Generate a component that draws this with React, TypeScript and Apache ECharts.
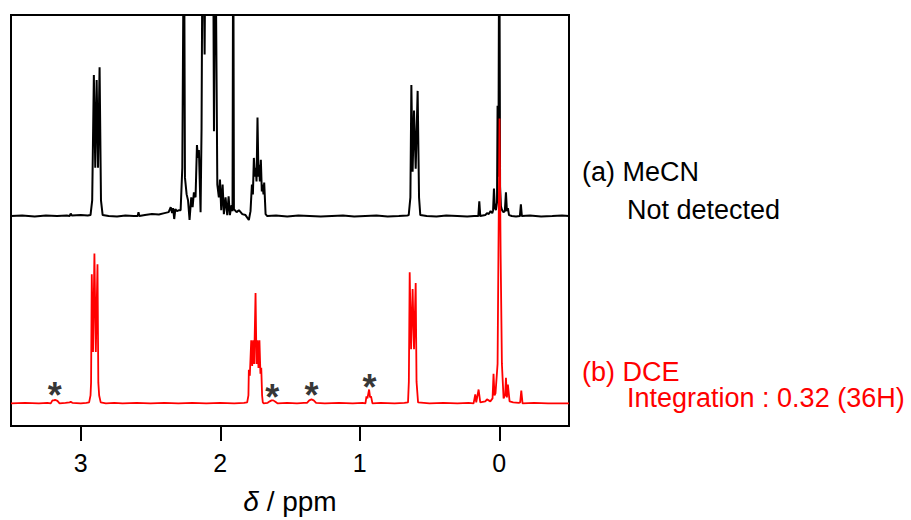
import React, { useEffect, useRef } from "react";
import * as echarts from "echarts";

// ---- Data (ppm, intensity above each trace's own baseline) ----
const blackSpectrum: [number, number][] = [
  [3.5, 0], [3.42, 0.5], [3.33, -0.5], [3.25, 0.5], [3.17, 0], [3.1, 0.5], [3.08, 0], [3.072, 2.5], [3.064, 0.5], [3.0, 1], [2.95, 0.5],
  [2.93, 1], [2.918, 16], [2.906, 143], [2.896, 49], [2.886, 138], [2.876, 49], [2.865, 151], [2.855, 16], [2.843, 1],
  [2.8, 0], [2.74, -0.5], [2.68, 0.5], [2.62, 0], [2.592, 0], [2.586, 4], [2.58, 0], [2.54, 1], [2.49, 2], [2.44, 1.5], [2.4, 3],
  [2.37, 4], [2.355, 9], [2.345, 3], [2.338, 8], [2.33, -3], [2.322, 7], [2.31, 5], [2.295, 6], [2.284, 6],
  [2.272, 49], [2.26, 330], [2.253, 39], [2.241, 22], [2.231, 16], [2.22, -4], [2.208, 19], [2.198, 9], [2.189, 24], [2.177, 19],
  [2.167, 72], [2.16, 59], [2.153, 67], [2.141, 4], [2.134, 89], [2.126, 330], [2.112, 164], [2.105, 330], [2.081, 340],
  [2.052, 330], [2.045, 86], [2.036, 330], [2.021, 32], [2.01, 19], [2.002, 37], [1.993, 6], [1.983, 32], [1.974, 2], [1.962, 19],
  [1.95, 1], [1.94, 20], [1.931, 1], [1.919, 11], [1.912, 5], [1.907, 330], [1.902, 7], [1.883, 4], [1.866, 6], [1.842, 2],
  [1.819, 1], [1.795, -4], [1.783, 5],
  [1.773, 32], [1.766, 22], [1.759, 59], [1.752, 40], [1.745, 49], [1.74, 35], [1.733, 100], [1.726, 40], [1.721, 52], [1.716, 35],
  [1.709, 57], [1.702, 25], [1.697, 32], [1.69, 22], [1.685, 34], [1.675, 2], [1.663, 0],
  [1.6, 0.5], [1.52, -0.5], [1.44, 0.5], [1.36, 0], [1.28, -0.5], [1.2, 0], [1.12, 0.5], [1.04, -0.5], [0.96, 0], [0.88, 0.5],
  [0.8, -0.5], [0.72, 0], [0.66, 0.5],
  [0.649, 1], [0.637, 19], [0.63, 133], [0.621, 45], [0.611, 107], [0.599, 48], [0.585, 127], [0.575, 19], [0.566, 1],
  [0.52, 0], [0.45, -0.5], [0.38, 0.5], [0.3, 0], [0.23, -0.5], [0.18, 0], [0.15, 0], [0.143, 15], [0.136, 0], [0.1, 1],
  [0.088, 3], [0.075, 2], [0.062, 5], [0.05, 3], [0.044, 6], [0.038, 28], [0.031, 8], [0.024, 6], [0.016, 14], [0.012, 112],
  [0.006, 40], [0.0, 330], [-0.006, 30], [-0.012, 10], [-0.02, 6], [-0.03, 4], [-0.04, 5], [-0.048, 24], [-0.055, 5], [-0.062, 8],
  [-0.07, 1], [-0.09, 0], [-0.12, -0.5], [-0.148, 0], [-0.155, 12], [-0.162, 0], [-0.22, 0.5], [-0.3, -0.5], [-0.38, 0],
  [-0.45, 0.5], [-0.5, 0],
];

const redSpectrum: [number, number][] = [
  [3.5, 0], [3.4, 0.5], [3.3, 0], [3.24, 0.5], [3.215, 0], [3.203, 3], [3.192, 3], [3.184, 3.5], [3.167, 2.5], [3.152, 0],
  [3.11, 0.5], [3.08, 1], [3.072, 1.5], [3.06, 0.5], [3.0, 0], [2.96, 0.5],
  [2.94, 1], [2.93, 8], [2.926, 21], [2.921, 131], [2.912, 52], [2.902, 152], [2.892, 52], [2.88, 141], [2.874, 21], [2.868, 8], [2.857, 1],
  [2.82, 0], [2.76, 0.5], [2.7, 0], [2.6, 0.5], [2.5, 0], [2.4, 0.5], [2.3, 0], [2.2, 0.5], [2.1, 0], [2.0, 0.5], [1.9, 0], [1.83, 0.5],
  [1.807, 1], [1.798, 8], [1.795, 34], [1.788, 28], [1.778, 64], [1.771, 38], [1.764, 64], [1.757, 40], [1.747, 112], [1.74, 40],
  [1.733, 64], [1.726, 36], [1.719, 64], [1.712, 30], [1.706, 36], [1.7, 8], [1.695, 1],
  [1.69, 0], [1.66, 0.5], [1.645, 2], [1.632, 3], [1.62, 3], [1.605, 1.5], [1.59, 0], [1.52, 0.5], [1.45, 0], [1.4, 0.5],
  [1.378, 0.5], [1.362, 3], [1.346, 4], [1.33, 3], [1.313, 0.5], [1.25, 0], [1.15, 0.5], [1.05, 0], [0.98, 0.5],
  [0.959, 0], [0.952, 7], [0.945, 5], [0.933, 14], [0.926, 6], [0.919, 7], [0.909, 0],
  [0.85, 0.5], [0.75, 0], [0.68, 0.5],
  [0.654, 1], [0.648, 22], [0.642, 133], [0.632, 55], [0.621, 116], [0.611, 55], [0.599, 122], [0.593, 22], [0.582, 1],
  [0.5, 0], [0.4, 0.5], [0.3, 0], [0.22, 0.5], [0.184, 0], [0.172, 9], [0.165, 1], [0.148, 14], [0.136, 1], [0.1, 2],
  [0.088, 4], [0.064, 2], [0.048, 5], [0.041, 30], [0.034, 8], [0.027, 10], [0.012, 40], [0.006, 150], [-0.002, 289],
  [-0.01, 150], [-0.019, 40], [-0.031, 5], [-0.042, 8], [-0.048, 26], [-0.055, 6], [-0.062, 19], [-0.074, 2], [-0.1, 1],
  [-0.14, 0.5], [-0.15, 1], [-0.158, 13], [-0.167, 0], [-0.25, 0.5], [-0.35, 0], [-0.5, 0],
];

// impurity marks (*) on the DCE trace: [ppm, height above DCE baseline]
const impurityMarks: [number, number][] = [
  [3.186, 16], [1.627, 14], [1.346, 16], [0.931, 24],
];

const xTicks = [0, 1, 2, 3];
const X_MIN = -0.5;
const X_MAX = 3.5;
const Y_MAX = 417;
const BLACK_OFFSET = 213;
const RED_OFFSET = 23;

const labelsRight = [
  { text: "(a) MeCN", color: "#000000", indent: false, y: 172 },
  { text: "Not detected", color: "#000000", indent: true, y: 210 },
  { text: "(b) DCE", color: "#ff0000", indent: false, y: 372 },
  { text: "Integration : 0.32 (36H)", color: "#ff0000", indent: true, y: 398 },
];

const FONT = "'Liberation Sans', Arial, Helvetica, sans-serif";

export default function App() {
  const ref = useRef<HTMLDivElement>(null);
  useEffect(() => {
    if (!ref.current) return;
    const chart = echarts.init(ref.current, undefined, { renderer: "svg" });
    const option: any = {
      animation: false,
      grid: {
        left: 11, right: 342, top: 15, bottom: 88,
        show: true, borderColor: "#000", borderWidth: 2, backgroundColor: "transparent",
      },
      xAxis: {
        type: "value",
        inverse: true,
        min: X_MIN,
        max: X_MAX,
        splitLine: { show: false },
        axisLine: { show: true, onZero: false, lineStyle: { color: "#000", width: 2 } },
        axisTick: { show: true, inside: false, length: 15, customValues: xTicks, lineStyle: { color: "#000", width: 2 } },
        axisLabel: {
          show: true, customValues: xTicks, margin: 24, fontSize: 25, color: "#000", fontFamily: FONT,
          formatter: (v: number) => String(v),
        },
        name: "{d|δ} / ppm",
        nameLocation: "middle",
        nameGap: 61,
        nameTextStyle: {
          fontSize: 28, color: "#000", fontFamily: FONT,
          rich: { d: { fontSize: 28, fontStyle: "italic", color: "#000", fontFamily: FONT } },
        },
      },
      yAxis: {
        type: "value", min: 0, max: Y_MAX, show: false, splitLine: { show: false },
      },
      series: [
        {
          type: "line",
          name: "MeCN",
          data: blackSpectrum.map(([p, h]) => [p, h + BLACK_OFFSET]),
          symbol: "none",
          clip: true,
          lineStyle: { color: "#000000", width: 2 },
          z: 2,
        },
        {
          type: "line",
          name: "DCE",
          data: redSpectrum.map(([p, h]) => [p, h + RED_OFFSET]),
          symbol: "none",
          clip: true,
          lineStyle: { color: "#ff0000", width: 1.8 },
          z: 3,
        },
        {
          type: "scatter",
          name: "impurity",
          data: impurityMarks.map(([p, h]) => [p, h + RED_OFFSET]),
          symbol: "circle",
          symbolSize: 1,
          itemStyle: { color: "rgba(0,0,0,0)" },
          label: {
            show: true, position: "inside", formatter: "*", fontSize: 36, fontWeight: "bold",
            color: "#000000", textBorderWidth: 0, fontFamily: FONT, offset: [0, 8],
          },
          z: 4,
        },
      ],
      graphic: labelsRight.map((l) => ({
        type: "text",
        x: l.indent ? 627 : 582,
        y: l.y,
        style: {
          text: l.text, fill: l.color, fontSize: 27, fontFamily: FONT, verticalAlign: "middle", align: "left",
        },
      })),
    };
    chart.setOption(option);
    return () => chart.dispose();
  }, []);
  return <div ref={ref} style={{ position: "absolute", left: 0, top: 0, width: 911, height: 520, background: "#fff" }} />;
}
